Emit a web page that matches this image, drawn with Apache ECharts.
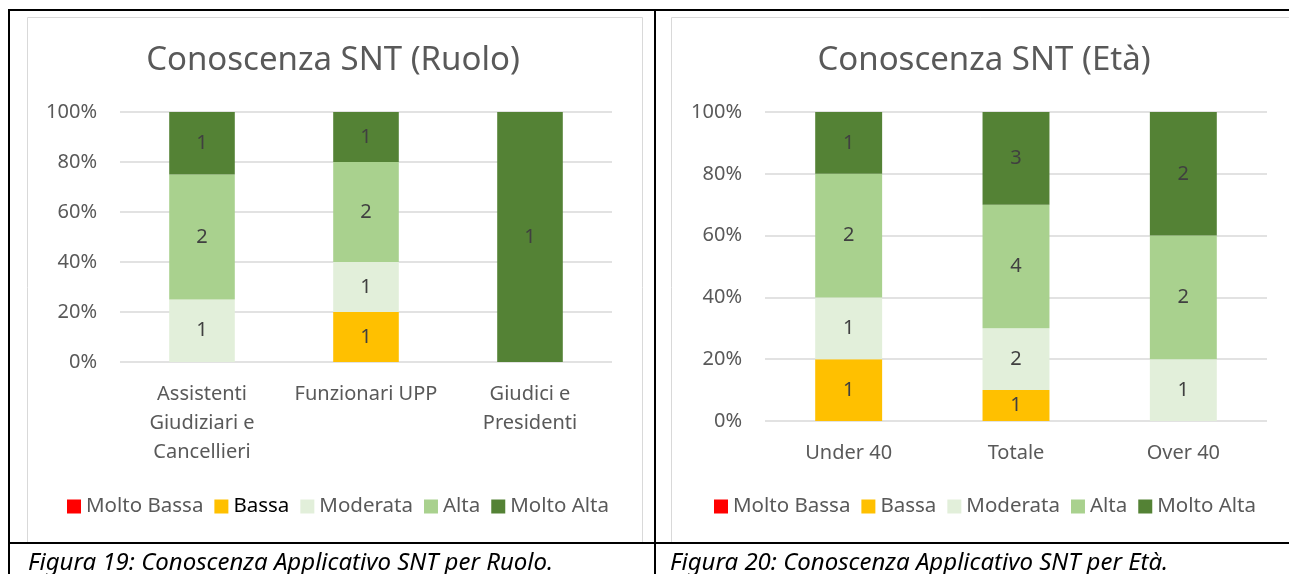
<!DOCTYPE html>
<html>
<head>
<meta charset="utf-8">
<title>Conoscenza SNT</title>
<script src="https://cdn.jsdelivr.net/npm/echarts@6/dist/echarts.min.js"></script>
<style>
  html, body { margin: 0; padding: 0; background: #fff; }
  #chart { width: 1289px; height: 574px; }
</style>
</head>
<body>
<div id="chart"></div>
<script>
const FONT = '"Noto Sans", "Open Sans", sans-serif'

const levels = ['Molto Bassa', 'Bassa', 'Moderata', 'Alta', 'Molto Alta']
const levelColors = ['#FF0000', '#FFC000', '#E2EFDA', '#A9D18E', '#548235']

// Ruolo
const ruoloCategories = ['Assistenti\nGiudiziari e\nCancellieri', 'Funzionari UPP', 'Giudici e\nPresidenti']
const ruoloMoltoBassa = [0, 0, 0]
const ruoloBassa = [0, 1, 0]
const ruoloModerata = [1, 1, 0]
const ruoloAlta = [2, 2, 0]
const ruoloMoltoAlta = [1, 1, 1]

// Età
const etaCategories = ['Under 40', 'Totale', 'Over 40']
const etaMoltoBassa = [0, 0, 0]
const etaBassa = [1, 1, 0]
const etaModerata = [1, 2, 1]
const etaAlta = [2, 4, 2]
const etaMoltoAlta = [1, 3, 2]

const captionRuolo = 'Figura 19: Conoscenza Applicativo SNT per Ruolo.'
const captionEta = 'Figura 20: Conoscenza Applicativo SNT per Età.'

function buildSeries(rows, axisIndex) {
  const totals = rows[0].map((_, i) => rows.reduce((s, r) => s + r[i], 0))
  return levels.map((name, k) => ({
    name,
    type: 'bar',
    stack: 'stack' + axisIndex,
    xAxisIndex: axisIndex,
    yAxisIndex: axisIndex,
    barWidth: '40%',
    itemStyle: { color: levelColors[k] },
    emphasis: { disabled: true },
    label: {
      show: true,
      position: 'inside',
      color: '#404040',
      fontFamily: FONT,
      fontSize: 20,
      formatter: p => (p.data.count ? String(p.data.count) : '')
    },
    data: rows[k].map((c, i) => ({ value: totals[i] ? (c / totals[i]) * 100 : 0, count: c }))
  }))
}

function yAxis(gridIndex) {
  return {
    type: 'value',
    gridIndex,
    min: 0,
    max: 100,
    interval: 20,
    axisLine: { show: false },
    axisTick: { show: false },
    splitLine: { lineStyle: { color: '#D9D9D9', width: 1.5 } },
    axisLabel: { formatter: '{value}%', color: '#595959', fontFamily: FONT, fontSize: 20, margin: 23 }
  }
}

function xAxis(gridIndex, data) {
  return {
    type: 'category',
    gridIndex,
    data,
    axisLine: { show: false },
    axisTick: { show: false },
    axisLabel: { interval: 0, color: '#595959', fontFamily: FONT, fontSize: 20, lineHeight: 29, margin: 18 }
  }
}

function legend(left, bassaColor) {
  return {
    left,
    top: 496,
    padding: 0,
    itemWidth: 14,
    itemHeight: 14,
    itemGap: 11,
    icon: 'rect',
    selectedMode: false,
    textStyle: { color: '#595959', fontFamily: FONT, fontSize: 20.5 },
    data: levels.map(n => (n === 'Bassa' ? { name: n, textStyle: { color: bassaColor } } : n))
  }
}

const chart = echarts.init(document.getElementById('chart'))

chart.setOption({
  backgroundColor: '#fff',
  animation: false,
  title: [
    { text: 'Conoscenza SNT (Ruolo)', left: 333, top: 44, padding: 0, textAlign: 'center',
      textStyle: { color: '#595959', fontFamily: FONT, fontSize: 33, fontWeight: 'normal' } },
    { text: 'Conoscenza SNT (Età)', left: 984, top: 44, padding: 0, textAlign: 'center',
      textStyle: { color: '#595959', fontFamily: FONT, fontSize: 33, fontWeight: 'normal' } }
  ],
  legend: [legend(67, '#000000'), legend(714, '#595959')],
  grid: [
    { left: 120, top: 112, width: 492, height: 250, containLabel: false, outerBoundsMode: 'none' },
    { left: 765, top: 112, width: 502, height: 309, containLabel: false, outerBoundsMode: 'none' }
  ],
  xAxis: [xAxis(0, ruoloCategories), xAxis(1, etaCategories)],
  yAxis: [yAxis(0), yAxis(1)],
  series: [
    ...buildSeries([ruoloMoltoBassa, ruoloBassa, ruoloModerata, ruoloAlta, ruoloMoltoAlta], 0),
    ...buildSeries([etaMoltoBassa, etaBassa, etaModerata, etaAlta, etaMoltoAlta], 1)
  ],
  graphic: [
    // chart frames
    { type: 'rect', silent: true, z: -1, shape: { x: 27.5, y: 17.5, width: 615, height: 540 },
      style: { fill: 'none', stroke: '#D9D9D9', lineWidth: 1 } },
    { type: 'rect', silent: true, z: -1, shape: { x: 671.5, y: 17.5, width: 620, height: 540 },
      style: { fill: 'none', stroke: '#D9D9D9', lineWidth: 1 } },
    // table borders
    { type: 'rect', silent: true, shape: { x: 8, y: 9, width: 1281, height: 2 }, style: { fill: '#000' } },
    { type: 'rect', silent: true, shape: { x: 8, y: 9, width: 2, height: 565 }, style: { fill: '#000' } },
    { type: 'rect', silent: true, shape: { x: 654, y: 9, width: 2, height: 565 }, style: { fill: '#000' } },
    { type: 'rect', silent: true, shape: { x: 8, y: 544, width: 1281, height: 30 }, style: { fill: '#fff' }, z: 5 },
    { type: 'rect', silent: true, shape: { x: 8, y: 542, width: 1281, height: 2 }, style: { fill: '#000' }, z: 6 },
    { type: 'rect', silent: true, shape: { x: 8, y: 542, width: 2, height: 32 }, style: { fill: '#000' }, z: 6 },
    { type: 'rect', silent: true, shape: { x: 654, y: 542, width: 2, height: 32 }, style: { fill: '#000' }, z: 6 },
    // captions
    { type: 'text', silent: true, z: 7, x: 28, y: 563,
      style: { text: captionRuolo, fill: '#000', font: 'italic 24px ' + FONT, verticalAlign: 'middle' } },
    { type: 'text', silent: true, z: 7, x: 670, y: 563,
      style: { text: captionEta, fill: '#000', font: 'italic 24px ' + FONT, verticalAlign: 'middle' } }
  ]
})
</script>
</body>
</html>
